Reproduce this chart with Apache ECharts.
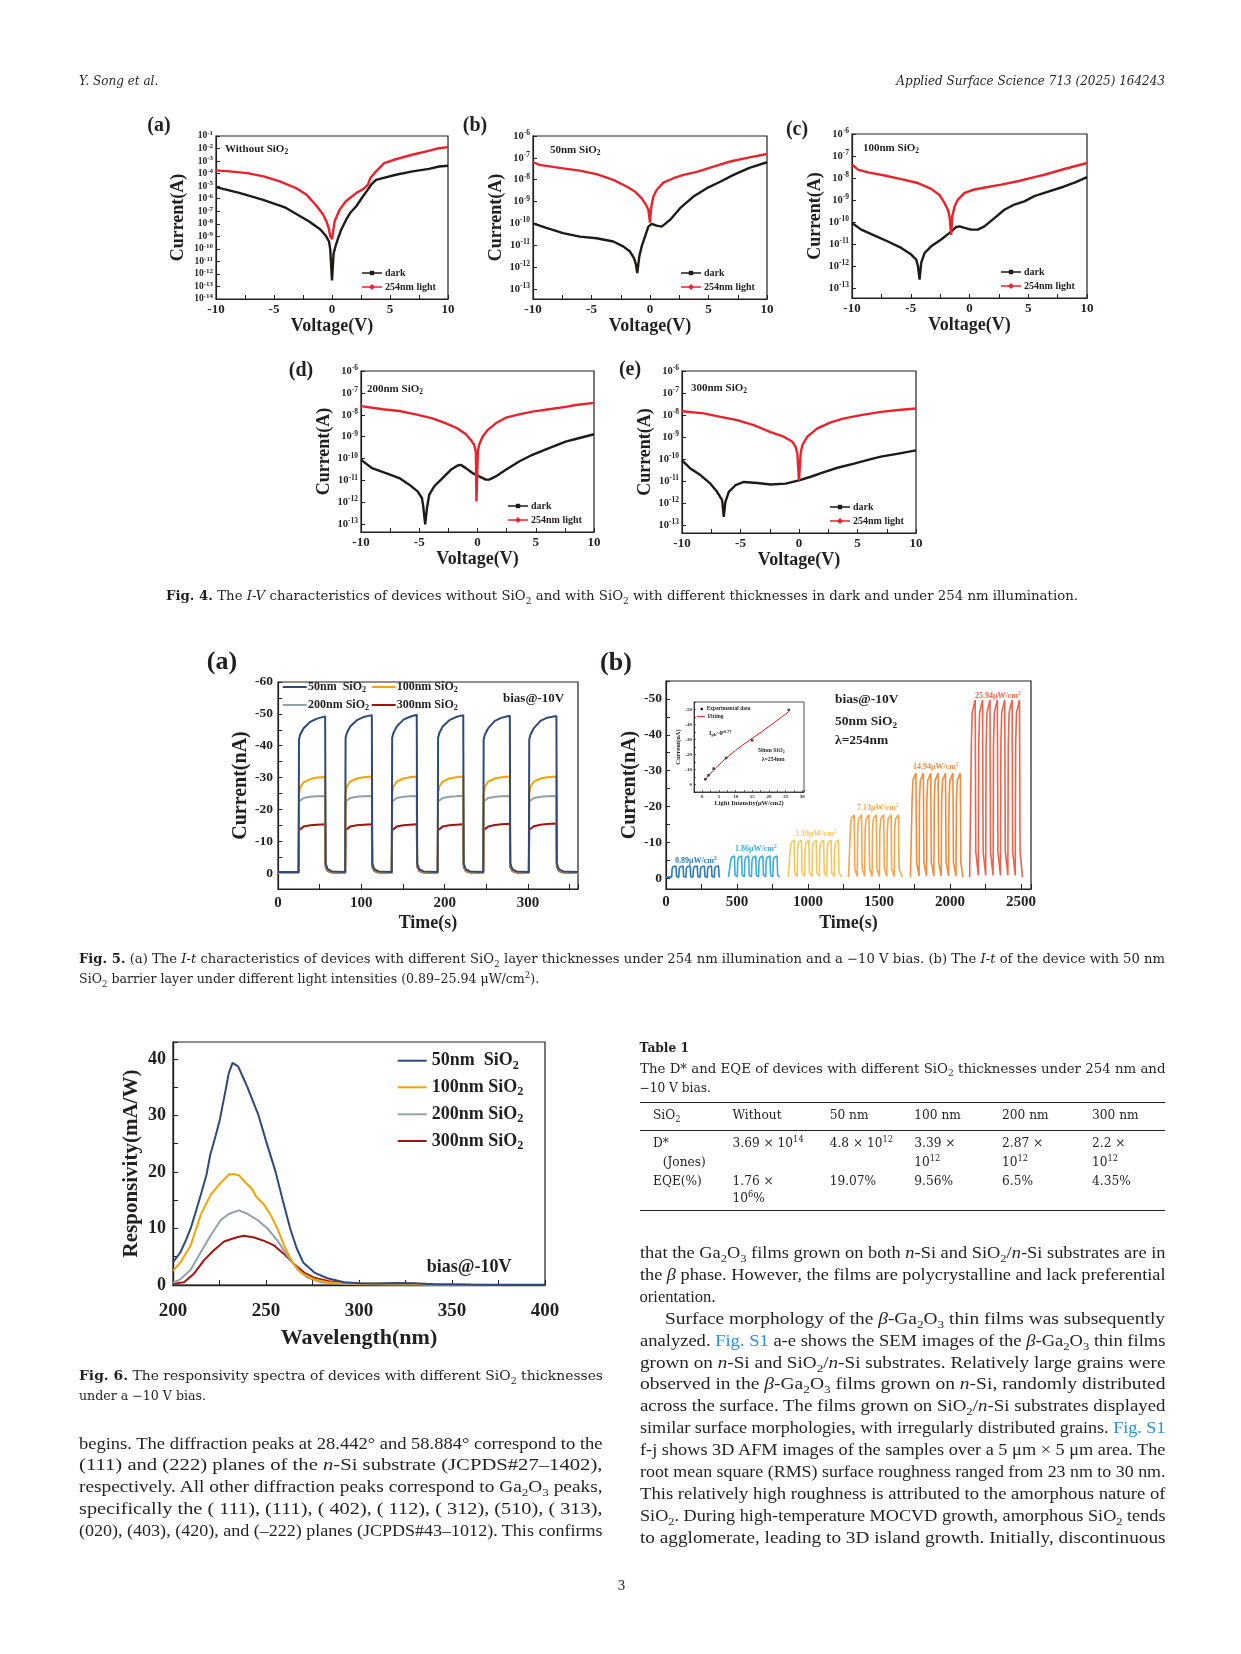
<!DOCTYPE html>
<html lang="en"><head><meta charset="utf-8"><title>Applied Surface Science page 3</title>
<script src="https://cdn.jsdelivr.net/npm/echarts@6.0.0/dist/echarts.min.js"></script>
<style>
html,body{margin:0;padding:0;background:#fff;}
#page{position:relative;width:1241px;height:1654px;overflow:hidden;background:#fff;}
#chart{position:absolute;left:0;top:0;width:1241px;height:1654px;}
.ln{position:absolute;color:#231f20;white-space:nowrap;}
.ln sub,.ln sup{font-size:68%;line-height:0;}
.body{font-family:"Liberation Serif",serif;font-size:16.6px;}
.cap{font-family:"DejaVu Serif",serif;font-size:12.6px;}
.tab{font-family:"DejaVu Serif",serif;font-size:12.2px;}
.hdr{font-family:"DejaVu Serif",serif;font-style:italic;font-size:12px;}
.lk{color:#2a8fd6;}
.rule{position:absolute;background:#231f20;}
</style></head>
<body><div id="page"><div id="chart"></div></div>
<script>
// ================= DATA =================
// ---- Fig. 4 : I-V curves (V in volts, I in amperes) ----
const f4aDarkV = [-10,-8,-6,-4,-2,-1,-0.5,-0.26,-0.15,0,0.14,0.31,0.5,0.8,1.23,1.6,2.09,2.66,3.0,3.37,3.8,4.37,5.51,6.94,8.37,9.23,10];
const f4aDarkI = [8.5e-6,2.9e-6,8.5e-7,1.9e-7,1.6e-8,3.5e-9,1.0e-9,4e-10,9e-11,3e-13,4.5e-11,1.7e-10,6e-10,3.5e-9,2.2e-8,8e-8,2.5e-7,1.5e-6,4e-6,1.3e-5,3.2e-5,4.4e-5,8.1e-5,1.5e-4,2.4e-4,3.7e-4,4.2e-4];
const f4aLightV = [-10,-8.8,-7.3,-5.9,-4.5,-3.1,-2.2,-1.3,-0.77,-0.49,-0.29,-0.15,0,0.1,0.23,0.66,1.2,2.1,2.7,3.1,3.3,3.8,4.5,5.5,6.9,8.4,9.2,10];
const f4aLightI = [1.8e-4,1.5e-4,1.1e-4,6e-5,2.4e-5,7e-6,2.1e-6,2.5e-7,5.5e-8,1.6e-8,4.8e-9,1.0e-9,6e-10,2.6e-9,1.6e-8,1.35e-7,6.3e-7,2.9e-6,5.9e-6,1.3e-5,4.4e-5,1.5e-4,6.8e-4,1.4e-3,3.2e-3,6.9e-3,1.05e-2,1.3e-2];

const f4bDarkV = [-10,-8.86,-7.43,-6,-4.57,-3.14,-2.29,-1.71,-1.37,-1.2,-1.09,-0.91,-0.71,-0.43,-0.14,0.14,0.57,1,1.71,2.57,3.71,4.86,6,7.14,8.5,10];
const f4bDarkI = [1e-10,6.3e-11,3.6e-11,2.5e-11,2.1e-11,1.5e-11,8.9e-12,5.2e-12,2.6e-12,1.3e-12,5.4e-13,3.2e-12,8.9e-12,2.5e-11,7.2e-11,9.5e-11,7.9e-11,7.2e-11,1.45e-10,5e-10,1.7e-9,4.1e-9,8.1e-9,1.66e-8,3.5e-8,6.3e-8];
const f4bLightV = [-10,-9.43,-7.43,-6,-4.57,-3.14,-2,-1.29,-0.71,-0.34,-0.14,0,0.09,0.29,0.57,1.14,2,2.86,4,5.43,6.86,8.5,10];
const f4bLightI = [6.3e-8,4.8e-8,3.3e-8,2.6e-8,1.8e-8,9.8e-9,4.9e-9,2.9e-9,1.4e-9,7.1e-10,4.2e-10,1.1e-10,5e-10,1.7e-9,3.4e-9,7.4e-9,1.17e-8,1.66e-8,2.3e-8,4e-8,6.8e-8,1.05e-7,1.5e-7];

const f4cDarkV = [-10,-9.21,-8.07,-6.94,-5.81,-4.96,-4.53,-4.39,-4.25,-4.11,-3.82,-3.26,-2.41,-1.7,-1.13,-0.85,-0.42,0.14,0.71,1.27,2.12,2.97,3.82,4.67,5.52,6.37,8,9,10];
const f4cDarkI = [8.9e-11,4.5e-11,2.4e-11,1.3e-11,6.6e-12,3.3e-12,1.95e-12,1e-12,2.4e-13,1.4e-12,3.9e-12,7.8e-12,1.6e-11,3.2e-11,5.9e-11,6.3e-11,5.4e-11,4.5e-11,4.5e-11,6.3e-11,1.5e-10,3.6e-10,6.2e-10,8.7e-10,1.5e-9,2.1e-9,4e-9,6.3e-9,1.1e-8];
const f4cLightV = [-10,-9.49,-8.64,-7.22,-5.81,-4.39,-3.26,-2.55,-2.12,-1.84,-1.7,-1.56,-1.47,-1.27,-0.99,-0.42,0.42,1.56,2.69,4.11,5.52,6.37,8,10];
const f4cLightI = [4.1e-8,2.4e-8,1.8e-8,1.3e-8,8.9e-9,5.9e-9,3.2e-9,1.7e-9,7.2e-10,3.6e-10,1.8e-10,2.6e-11,1.8e-10,5.1e-10,1.05e-9,2.1e-9,3e-9,3.9e-9,5e-9,7.1e-9,1.1e-8,1.4e-8,2.5e-8,4.8e-8];

const f4dDarkV = [-10,-9.06,-7.86,-6.71,-5.86,-5.14,-4.77,-4.66,-4.49,-4.34,-4.14,-3.71,-3,-2.29,-1.71,-1.43,-1,-0.43,0.14,0.71,1,1.57,2.43,3.57,4.71,6.14,7.57,8.43,10];
const f4dDarkI = [8.9e-11,3.7e-11,2.2e-11,1.3e-11,6.5e-12,3.2e-12,1.6e-12,6.8e-13,1e-13,5.6e-13,2.3e-12,5.5e-12,1.3e-11,3.1e-11,4.9e-11,5.2e-11,3.7e-11,2.2e-11,1.55e-11,1.1e-11,1.1e-11,1.55e-11,3.1e-11,7.4e-11,1.5e-10,3e-10,6e-10,7.9e-10,1.3e-9];
const f4dLightV = [-10,-8.14,-6.71,-5.29,-3.86,-2.71,-1.71,-1,-0.57,-0.29,-0.14,-0.09,0.03,0.14,0.43,0.86,1.57,2.43,3.57,4.71,6.14,7.57,8.43,10];
const f4dLightI = [2.5e-8,1.8e-8,1.5e-8,1.05e-8,6.9e-9,4.1e-9,2.4e-9,1.3e-9,7.1e-10,4.3e-10,2.1e-10,1.1e-12,2.1e-10,4.3e-10,1e-9,2e-9,4.1e-9,7.4e-9,1.05e-8,1.4e-8,1.8e-8,2.3e-8,2.8e-8,3.5e-8];

const f4eDarkV = [-10,-9.29,-8.43,-7.57,-7,-6.57,-6.43,-6.29,-6,-5.43,-4.71,-3.57,-2.43,-1.14,0,1,2.14,3.29,4.71,6.14,7,8.5,10];
const f4eDarkI = [8.9e-11,3.8e-11,1.9e-11,7.8e-12,3.3e-12,1.4e-12,2.4e-13,1.15e-12,3.3e-12,6.6e-12,9.3e-12,8.3e-12,7.1e-12,7.8e-12,1.1e-11,1.6e-11,2.6e-11,4.1e-11,6.3e-11,1e-10,1.3e-10,1.8e-10,2.5e-10];
const f4eLightV = [-10,-8.14,-6.71,-5.29,-3.86,-2.43,-1.29,-0.57,-0.29,-0.14,0,0.14,0.29,0.71,1.57,2.71,3.86,5.29,7,8.5,10];
const f4eLightI = [1.5e-8,1.2e-8,8.3e-9,5.9e-9,3.5e-9,1.7e-9,1.05e-9,6.2e-10,3.6e-10,1.8e-10,1.1e-11,1.8e-10,4.4e-10,1.05e-9,2.5e-9,4.7e-9,7.1e-9,1e-8,1.4e-8,1.7e-8,2e-8];

const f4Tags = ['(a)','(b)','(c)','(d)','(e)'];
const f4Notes = ['Without SiO{b|2}','50nm SiO{b|2}','100nm SiO{b|2}','200nm SiO{b|2}','300nm SiO{b|2}'];
const f4LegendNames = ['dark','254nm light'];

// ---- Fig. 5(a) : I-t, bias -10 V (time s, current nA) ----
const f5aTime = [0,
 24.7,25.2,26.7,30.7,38.7,46.7,56.6,57.1,59.6,64.6,
 80.6,81.1,82.6,86.6,94.6,102.6,112.6,113.1,115.6,120.6,
 136.5,137,138.5,142.5,150.5,158.5,166.5,167,169.5,174.5,
 191.6,192.1,193.6,197.6,205.6,213.6,222.3,222.8,225.3,230.3,
 246.3,246.8,248.3,252.3,260.3,268.3,278.2,278.7,281.2,286.2,
 301,301.5,303,307,315,323,334.1,334.6,337.1,342.1,
 360];
const f5a50 = [-0.3,
 -0.3,-42,-43.5,-45.5,-47.5,-48.5,-49.2,-3,-1.2,-0.5,
 -0.3,-42.5,-44,-46,-48,-49,-49.6,-3,-1.2,-0.5,
 -0.3,-42.5,-44,-46,-48.2,-49.1,-49.7,-3,-1.2,-0.5,
 -0.3,-42.5,-44,-46,-48,-49,-49.6,-3,-1.2,-0.5,
 -0.3,-42,-43.5,-45.5,-47.8,-48.8,-49.4,-3,-1.2,-0.5,
 -0.3,-42,-43.5,-45.5,-47.8,-48.8,-49.3,-3,-1.2,-0.5,
 -0.3];
const f5a100 = [0,
 -0.1,-25,-27,-28.5,-29.5,-30,-30.2,-3,-1,-0.4,
 -0.1,-25,-27.2,-28.7,-29.7,-30.1,-30.3,-3,-1,-0.4,
 -0.1,-25,-27.2,-28.7,-29.7,-30.1,-30.3,-3,-1,-0.4,
 -0.1,-25,-27.2,-28.7,-29.7,-30.1,-30.3,-3,-1,-0.4,
 -0.1,-25,-27.2,-28.7,-29.7,-30.1,-30.3,-3,-1,-0.4,
 -0.1,-25,-27.2,-28.7,-29.7,-30.1,-30.3,-3,-1,-0.4,
 -0.1];
const f5a200 = [0,
 0,-22.5,-23,-23.6,-24,-24.1,-24.2,-2.5,-0.8,-0.3,
 0,-22.5,-23,-23.6,-24,-24.1,-24.2,-2.5,-0.8,-0.3,
 0,-22.5,-23,-23.6,-24,-24.1,-24.2,-2.5,-0.8,-0.3,
 0,-22.5,-23,-23.6,-24,-24.1,-24.3,-2.5,-0.8,-0.3,
 0,-22.5,-23,-23.6,-24,-24.1,-24.2,-2.5,-0.8,-0.3,
 0,-22.5,-23,-23.6,-24,-24.1,-24.2,-2.5,-0.8,-0.3,
 0];
const f5a300 = [0,
 0,-13.5,-14,-14.6,-15,-15.2,-15.3,-2,-0.6,-0.2,
 0,-13.5,-14,-14.6,-15,-15.2,-15.3,-2,-0.6,-0.2,
 0,-13.5,-14,-14.6,-15,-15.2,-15.3,-2,-0.6,-0.2,
 0,-13.5,-14,-14.6,-15,-15.2,-15.3,-2,-0.6,-0.2,
 0,-13.5,-14,-14.6,-15.1,-15.3,-15.5,-2,-0.6,-0.2,
 0,-13.6,-14.1,-14.7,-15.2,-15.4,-15.6,-2,-0.6,-0.2,
 0];
const f5aNames = ['50nm  SiO{b|2}','100nm SiO{b|2}','200nm SiO{b|2}','300nm SiO{b|2}'];

// ---- Fig. 5(b) : I-t under different intensities (time s, current nA) ----
const f5bG1T = [0, 40,43,49,70,74, 90,93,99,120,124, 140,143,149,170,174, 190,193,199,220,224, 240,243,249,270,274, 290,293,299,320,324, 340,343,349,370,374, 380];
const f5bG1I = [-0.3, -0.3,-2.6,-3.2,-3.4,-0.5, -0.3,-2.6,-3.2,-3.4,-0.5, -0.3,-2.6,-3.2,-3.4,-0.5, -0.3,-2.6,-3.2,-3.4,-0.5, -0.3,-2.6,-3.2,-3.4,-0.5, -0.3,-2.6,-3.2,-3.4,-0.5, -0.3,-2.6,-3.2,-3.4,-0.5, -0.3];
const f5bG2T = [440, 452,455,461,482,486, 502,505,511,532,536, 552,555,561,582,586, 602,605,611,632,636, 652,655,661,682,686, 702,705,711,732,736, 752,755,761,782,786, 800];
const f5bG2I = [-0.3, -0.4,-4.7,-5.8,-6.2,-0.9, -0.4,-4.7,-5.8,-6.2,-0.9, -0.4,-4.7,-5.8,-6.2,-0.9, -0.4,-4.7,-5.8,-6.2,-0.9, -0.4,-4.7,-5.8,-6.2,-0.9, -0.4,-4.7,-5.8,-6.2,-0.9, -0.4,-4.7,-5.8,-6.2,-0.9, -0.3];
const f5bG3T = [860, 872,875,881,902,906, 924,927,933,954,958, 976,979,985,1006,1010, 1028,1031,1037,1058,1062, 1080,1083,1089,1110,1114, 1132,1135,1141,1162,1166, 1184,1187,1193,1214,1218, 1238];
const f5bG3I = [-0.3, -0.5,-8,-9.9,-10.6,-1.6, -0.5,-8,-9.9,-10.6,-1.6, -0.5,-8,-9.9,-10.6,-1.6, -0.5,-8,-9.9,-10.6,-1.6, -0.5,-8,-9.9,-10.6,-1.6, -0.5,-8,-9.9,-10.6,-1.6, -0.5,-8,-9.9,-10.6,-1.6, -0.3];
const f5bG4T = [1285, 1295,1298,1304,1325,1329, 1347,1350,1356,1377,1381, 1399,1402,1408,1429,1433, 1451,1454,1460,1481,1485, 1503,1506,1512,1533,1537, 1555,1558,1564,1585,1589, 1607,1610,1616,1637,1641, 1664];
const f5bG4I = [-0.3, -0.5,-13.3,-16.5,-17.7,-2.7, -0.5,-13.3,-16.5,-17.7,-2.7, -0.5,-13.3,-16.5,-17.7,-2.7, -0.5,-13.3,-16.5,-17.7,-2.7, -0.5,-13.3,-16.5,-17.7,-2.7, -0.5,-13.3,-16.5,-17.7,-2.7, -0.5,-13.3,-16.5,-17.7,-2.7, -0.3];
const f5bG5T = [1721, 1730,1733,1739,1760,1764, 1782,1785,1791,1812,1816, 1834,1837,1843,1864,1868, 1886,1889,1895,1916,1920, 1938,1941,1947,1968,1972, 1990,1993,1999,2020,2024, 2042,2045,2051,2072,2076, 2090];
const f5bG5I = [-0.3, -0.6,-22,-27.3,-29.3,-4.4, -0.6,-22,-27.3,-29.3,-4.4, -0.6,-22,-27.3,-29.3,-4.4, -0.6,-22,-27.3,-29.3,-4.4, -0.6,-22,-27.3,-29.3,-4.4, -0.6,-22,-27.3,-29.3,-4.4, -0.6,-22,-27.3,-29.3,-4.4, -0.3];
const f5bG6T = [2138, 2147,2150,2156,2177,2181, 2199,2202,2208,2229,2233, 2251,2254,2260,2281,2285, 2303,2306,2312,2333,2337, 2355,2358,2364,2385,2389, 2407,2410,2416,2437,2441, 2459,2462,2468,2489,2493, 2510];
const f5bG6I = [-0.3, -0.8,-37.3,-46.2,-49.7,-7.5, -0.8,-37.3,-46.2,-49.7,-7.5, -0.8,-37.3,-46.2,-49.7,-7.5, -0.8,-37.3,-46.2,-49.7,-7.5, -0.8,-37.3,-46.2,-49.7,-7.5, -0.8,-37.3,-46.2,-49.7,-7.5, -0.8,-37.3,-46.2,-49.7,-7.5, -0.3];
const f5bIntensityLabels = ['0.89μW/cm{s|2}','1.86μW/cm{s|2}','3.39μW/cm{s|2}','7.13μW/cm{s|2}','14.94μW/cm{s|2}','25.94μW/cm{s|2}'];
// inset: photocurrent vs light intensity
const f5bInsetP = [0.89,1.86,3.39,7.13,14.94,25.94];
const f5bInsetI = [-3.5,-6.2,-10.6,-17.7,-29.4,-49.7];
const f5bFitP = [0.89,2,4,6,8,10,12,14,16,18,20,22,24,25.94];
const f5bFitI = [-3.2,-6.3,-11,-15.3,-19.2,-22.8,-26.2,-29.3,-32.4,-35.5,-38.7,-42,-45.3,-48.6];

// ---- Fig. 6 : responsivity spectra (nm, mA/W) ----
const f6W50 = [200,204,207,209.5,212,215,218,220,223,225,228,230,232,235,238,240,243,246,250,255,259,263,266.5,270,276,283,292,300,310,320,330,340,360,380,400];
const f6R50 = [4.0,5.8,8.0,10.0,12.7,16.0,19.5,23.0,26.5,29.0,34.0,37.5,39.3,38.7,36.5,35.0,32.5,30.0,25.5,20.2,15.0,10.0,6.5,4.0,2.2,1.2,0.5,0.3,0.25,0.35,0.3,0.15,0.05,0.02,0];
const f6W100 = [200,204,209.5,214.9,220.3,225.7,230.2,233,235.5,238.2,242.7,244.5,249,252.5,256.1,259.7,264.2,268.7,275.8,283,290,300,320,340,360,400];
const f6R100 = [2.5,4.0,7.0,12.4,16.0,18.1,19.6,19.6,19.4,18.4,16.9,15.7,14.2,12.4,10.0,7.0,4.0,2.2,1.0,0.5,0.3,0.2,0.3,0.1,0.05,0];
const f6W200 = [200,204,209.5,214.9,220.3,225.7,230.2,235.5,240,245.4,250.8,256.1,261.5,266.9,272.3,279.4,286.6,300,320,350,400];
const f6R200 = [0.4,1.0,2.7,5.8,8.8,11.5,12.6,13.2,12.6,11.5,10.0,7.9,5.2,2.8,1.3,0.5,0.3,0.15,0.1,0.05,0];
const f6W300 = [200,205.9,211.3,216.7,222.1,227.5,231,235,238.2,243.6,249,254.3,259.7,265.1,270.5,275.8,284.8,295,310,340,370,400];
const f6R300 = [0.2,0.5,2.0,4.4,6.2,7.7,8.1,8.5,8.7,8.4,7.8,7.0,5.5,3.7,2.2,1.3,0.6,0.3,0.15,0.1,0.05,0.05];
const f6Names = ['50nm  SiO{b|2}','100nm SiO{b|2}','200nm SiO{b|2}','300nm SiO{b|2}'];

// ================= BUILD =================
const FF = 'Liberation Serif';
const INK = '#231f20';
const DARK = '#1e1a18', RED = '#e8232b';
const C5 = ['#2e4a7a','#f5a300','#8fa2aa','#a5120f'];
const C5b = ['#2b7bba','#3aaee0','#f7c75f','#f4a74e','#f08d3c','#ea654e'];
const zip = (a,b) => a.map((v,i)=>[v,b[i]]);

const grids=[], xAxes=[], yAxes=[], series=[], graphics=[];
function addGrid(g, bw){ grids.push(Object.assign({show:true, borderColor:INK, borderWidth:bw||1.2, backgroundColor:'transparent'}, g)); return grids.length-1; }
const AL = (w) => ({show:true, onZero:false, lineStyle:{color:INK, width:w||1.2}});
const AT = (len, w) => ({show:true, inside:true, length:len, lineStyle:{color:INK, width:w||1}});
function richSet(fs, color){
  return {
    b:{fontSize:fs*0.68, fontFamily:FF, fontWeight:'bold', fill:color, color:color, padding:[fs*0.55,0,0,0]},
    s:{fontSize:fs*0.68, fontFamily:FF, fontWeight:'bold', fill:color, color:color, padding:[0,0,fs*0.5,0]}
  };
}
function gText(x, y, text, fs, color, align){
  color = color || INK;
  graphics.push({type:'text', silent:true, z:60, style:{x:x, y:y, text:text, fill:color, fontFamily:FF, fontWeight:'bold', fontSize:fs, align:align||'left', verticalAlign:'middle', rich:richSet(fs,color)}});
}
function gLine(x1,y1,x2,y2,color,w){ graphics.push({type:'line', silent:true, z:60, shape:{x1:x1,y1:y1,x2:x2,y2:y2}, style:{stroke:color, lineWidth:w||1.5}}); }
function gRect(x,y,w,h,color){ graphics.push({type:'rect', silent:true, z:61, shape:{x:x,y:y,width:w,height:h}, style:{fill:color}}); }
function gDiamond(cx,cy,r,color){ graphics.push({type:'polygon', silent:true, z:61, shape:{points:[[cx,cy-r],[cx+r,cy],[cx,cy+r],[cx-r,cy]]}, style:{fill:color}}); }
const nameStyle = (fs) => ({fontFamily:FF, fontWeight:'bold', fontSize:fs, color:INK});
const lblStyle = (fs, margin, fmt) => ({fontFamily:FF, fontWeight:'bold', fontSize:fs, color:INK, margin:margin, formatter:fmt});

// ---------- Fig. 4 ----------
const f4 = [
 {grid:{left:216,top:136,width:232,height:163}, d:[f4aDarkV,f4aDarkI], l:[f4aLightV,f4aLightI], ymin:1e-14, ymax:1e-1, overlay:[-14,-1], tx:159, ty:126, nx:225, ny:149, ygap:29, xgap:17},
 {grid:{left:533,top:136,width:234,height:163}, d:[f4bDarkV,f4bDarkI], l:[f4bLightV,f4bLightI], ymin:3.5e-14, ymax:1e-6, tx:475, ty:126, nx:550, ny:150, ygap:25, xgap:14},
 {grid:{left:852,top:134,width:235,height:164}, d:[f4cDarkV,f4cDarkI], l:[f4cLightV,f4cLightI], ymin:3.5e-14, ymax:1e-6, tx:797, ty:130, nx:863, ny:148, ygap:24, xgap:14},
 {grid:{left:361,top:371,width:233,height:161}, d:[f4dDarkV,f4dDarkI], l:[f4dLightV,f4dLightI], ymin:4.5e-14, ymax:1e-6, tx:301, ty:371, nx:367, ny:389, ygap:26, xgap:16},
 {grid:{left:682,top:371,width:234,height:162}, d:[f4eDarkV,f4eDarkI], l:[f4eLightV,f4eLightI], ymin:4.5e-14, ymax:1e-6, tx:630, ty:370, nx:691, ny:388, ygap:27, xgap:16}
];
const logFmt = v => { const e = Math.log10(v), n = Math.round(e); return Math.abs(e-n) < 1e-6 ? '10{s|' + n + '}' : ''; };
f4.forEach((p, i) => {
  const gi = addGrid(p.grid);
  const xi = xAxes.length;
  xAxes.push({type:'value', gridIndex:gi, position:'bottom', min:-10, max:10, interval:2.5, axisLine:AL(), axisTick:AT(4), splitLine:{show:false},
    axisLabel:lblStyle(13, 4, v => (Math.abs(v % 5) < 1e-9 ? String(v) : '')),
    name:'Voltage(V)', nameLocation:'middle', nameGap:p.xgap, nameTextStyle:nameStyle(18)});
  const yi = yAxes.length;
  const ylog = {type:'log', logBase:10, gridIndex:gi, position:'left', min:p.ymin, max:p.ymax, axisLine:AL(), axisTick:AT(4), splitLine:{show:false},
    minorTick:{show:false}, minorSplitLine:{show:false},
    axisLabel:Object.assign(lblStyle(10.5, 3, logFmt), {rich:{s:{fontSize:7.5, fontFamily:FF, fontWeight:'bold', color:INK, padding:[0,0,6,0]}}})};
  if (p.overlay) {
    ylog.show = false;
    yAxes.push(ylog);
    yAxes.push({type:'value', gridIndex:gi, position:'left', offset:0, min:p.overlay[0], max:p.overlay[1], interval:1, axisLine:AL(), axisTick:AT(4), splitLine:{show:false},
      axisLabel:Object.assign(lblStyle(9.5, 3, v => '10{s|' + v + '}'), {rich:{s:{fontSize:7, fontFamily:FF, fontWeight:'bold', color:INK, padding:[0,0,5,0]}}}),
      name:'Current(A)', nameLocation:'middle', nameGap:p.ygap, nameRotate:90, nameTextStyle:nameStyle(18)});
  } else {
    Object.assign(ylog, {name:'Current(A)', nameLocation:'middle', nameGap:p.ygap, nameRotate:90, nameTextStyle:nameStyle(18)});
    yAxes.push(ylog);
  }
  series.push({type:'line', name:f4LegendNames[0], xAxisIndex:xi, yAxisIndex:yi, data:zip(p.d[0], p.d[1]), symbol:'none', lineStyle:{color:DARK, width:2.4}, z:3, silent:true});
  series.push({type:'line', name:f4LegendNames[1], xAxisIndex:xi, yAxisIndex:yi, data:zip(p.l[0], p.l[1]), symbol:'none', lineStyle:{color:RED, width:2.4}, z:4, silent:true});
  gText(p.tx, p.ty, f4Tags[i], 20, INK, 'center');
  gText(p.nx, p.ny, f4Notes[i], 11);
  const right = p.grid.left + p.grid.width, bottom = p.grid.top + p.grid.height;
  const x1 = right - 86, x2 = right - 66, ya = bottom - 26, yb = bottom - 12;
  gLine(x1, ya, x2, ya, DARK, 1.5); gRect((x1+x2)/2 - 2.2, ya - 2.2, 4.4, 4.4, DARK);
  gText(x2 + 3, ya, f4LegendNames[0], 10);
  gLine(x1, yb, x2, yb, RED, 1.5); gDiamond((x1+x2)/2, yb, 3, RED);
  gText(x2 + 3, yb, f4LegendNames[1], 10);
});

// ---------- Fig. 5(a) ----------
{
  const gi = addGrid({left:278, top:682, width:300, height:207});
  const xi = xAxes.length;
  xAxes.push({type:'value', gridIndex:gi, min:0, max:360, interval:50, axisLine:AL(), axisTick:AT(5), splitLine:{show:false},
    axisLabel:lblStyle(15, 7, v => (v % 100 === 0 ? String(v) : '')),
    name:'Time(s)', nameLocation:'middle', nameGap:25, nameTextStyle:nameStyle(18)});
  const yi = yAxes.length;
  yAxes.push({type:'value', gridIndex:gi, inverse:true, min:-60, max:5, interval:5, axisLine:AL(), axisTick:AT(4), splitLine:{show:false},
    axisLabel:lblStyle(13.5, 5, v => (v % 10 === 0 ? String(v) : '')),
    name:'Current(nA)', nameLocation:'middle', nameGap:21, nameRotate:90, nameTextStyle:nameStyle(20)});
  [f5a50, f5a100, f5a200, f5a300].forEach((arr, k) => {
    series.push({type:'line', xAxisIndex:xi, yAxisIndex:yi, data:zip(f5aTime, arr), symbol:'none', lineStyle:{color:C5[k], width:2}, z:3 + (3-k), silent:true});
  });
  gText(222, 662, '(a)', 26, INK, 'center');
  const lx = [282.7, 371.7], tx = [308, 396.7], ly = [687, 705];
  f5aNames.forEach((n, k) => {
    const cx = k % 2, cy = Math.floor(k / 2);
    gLine(lx[cx], ly[cy], lx[cx] + 24, ly[cy], C5[k], 2);
    gText(tx[cx], ly[cy], n, 12);
  });
  gText(503, 699, 'bias@-10V', 13);
}

// ---------- Fig. 5(b) ----------
{
  const gi = addGrid({left:666, top:681, width:365, height:208});
  const xi = xAxes.length;
  xAxes.push({type:'value', gridIndex:gi, min:0, max:2570, interval:250, axisLine:AL(), axisTick:AT(5), splitLine:{show:false},
    axisLabel:lblStyle(15, 6, v => (v % 500 === 0 ? String(v) : '')),
    name:'Time(s)', nameLocation:'middle', nameGap:25, nameTextStyle:nameStyle(18)});
  const yi = yAxes.length;
  yAxes.push({type:'value', gridIndex:gi, inverse:true, min:-55, max:3, interval:5, axisLine:AL(), axisTick:AT(4), splitLine:{show:false},
    axisLabel:lblStyle(13.5, 4, v => (v % 10 === 0 ? String(v) : '')),
    name:'Current(nA)', nameLocation:'middle', nameGap:23, nameRotate:90, nameTextStyle:nameStyle(20)});
  const groups = [[f5bG1T,f5bG1I],[f5bG2T,f5bG2I],[f5bG3T,f5bG3I],[f5bG4T,f5bG4I],[f5bG5T,f5bG5I],[f5bG6T,f5bG6I]];
  groups.forEach((g, k) => {
    series.push({type:'line', xAxisIndex:xi, yAxisIndex:yi, data:zip(g[0], g[1]), symbol:'none', lineStyle:{color:C5b[k], width:1.6}, z:3, silent:true});
  });
  const lab = [[675,861],[735,849],[795,834],[857,808],[913,767],[975,696]];
  f5bIntensityLabels.forEach((t, k) => gText(lab[k][0], lab[k][1], t, 8, C5b[k]));
  gText(616, 663, '(b)', 26, INK, 'center');
  gText(835, 700, 'bias@-10V', 13.5);
  gText(835, 722, '50nm SiO{b|2}', 13.5);
  gText(835, 741, 'λ=254nm', 13.5);

  // inset
  const gj = addGrid({left:694, top:702, width:110, height:90}, 0.8);
  const xj = xAxes.length;
  xAxes.push({type:'value', gridIndex:gj, min:-2.5, max:30.5, interval:2.5, axisLine:AL(0.8), axisTick:AT(2, 0.6), splitLine:{show:false},
    axisLabel:lblStyle(5, 2, v => (v % 5 === 0 ? String(v) : '')),
    name:'Light Intensity(μW/cm2)', nameLocation:'middle', nameGap:7, nameTextStyle:nameStyle(6.5)});
  const yj = yAxes.length;
  yAxes.push({type:'value', gridIndex:gj, inverse:true, min:-55, max:5, interval:5, axisLine:AL(0.8), axisTick:AT(2, 0.6), splitLine:{show:false},
    axisLabel:lblStyle(5, 2, v => (v % 10 === 0 ? String(v) : '')),
    name:'Current(nA)', nameLocation:'middle', nameGap:9, nameRotate:90, nameTextStyle:nameStyle(6.5)});
  series.push({type:'line', xAxisIndex:xj, yAxisIndex:yj, data:zip(f5bFitP, f5bFitI), symbol:'none', lineStyle:{color:'#e0141e', width:1}, z:5, silent:true});
  series.push({type:'scatter', xAxisIndex:xj, yAxisIndex:yj, data:zip(f5bInsetP, f5bInsetI), symbol:'rect', symbolSize:2.6, itemStyle:{color:INK}, z:6, silent:true});
  gRect(700.5, 707.8, 2.4, 2.4, INK);
  gText(706.7, 709, 'Experimental data', 5.5);
  gLine(697, 716.7, 705, 716.7, '#e0141e', 1);
  gText(707.7, 716.7, 'Fitting', 5.5);
  gText(709, 733, 'I{b|ph}~P{s|0.77}', 6.5);
  gText(758, 750.7, '50nm SiO{b|2}', 5.8);
  gText(761.7, 759.7, 'λ=254nm', 5.8);
}

// ---------- Fig. 6 ----------
{
  const gi = addGrid({left:173, top:1042, width:372, height:243});
  const xi = xAxes.length;
  xAxes.push({type:'value', gridIndex:gi, min:200, max:400, interval:25, axisLine:AL(1.4), axisTick:AT(5), splitLine:{show:false},
    axisLabel:lblStyle(19, 17, v => (v % 50 === 0 ? String(v) : '')),
    name:'Wavelength(nm)', nameLocation:'middle', nameGap:42, nameTextStyle:nameStyle(22)});
  const yi = yAxes.length;
  yAxes.push({type:'value', gridIndex:gi, min:0, max:43, interval:5, axisLine:AL(1.4), axisTick:AT(5), splitLine:{show:false},
    axisLabel:lblStyle(18, 7, v => (v % 10 === 0 ? String(v) : '')),
    name:'Responsivity(mA/W)', nameLocation:'middle', nameGap:31, nameRotate:90, nameTextStyle:nameStyle(21)});
  [[f6W50,f6R50],[f6W100,f6R100],[f6W200,f6R200],[f6W300,f6R300]].forEach((s, k) => {
    series.push({type:'line', xAxisIndex:xi, yAxisIndex:yi, data:zip(s[0], s[1]), symbol:'none', lineStyle:{color:C5[k], width:2}, z:3 + (3-k), silent:true});
  });
  const ly = [1060.7, 1087.3, 1114.3, 1141];
  f6Names.forEach((n, k) => { gLine(397.7, ly[k], 426.7, ly[k], C5[k], 2); gText(431.7, ly[k], n, 18); });
  gText(426.7, 1267, 'bias@-10V', 18);
}

const chart = echarts.init(document.getElementById('chart'), null, {renderer:'canvas', width:1241, height:1654});
chart.setOption({animation:false, grid:grids, xAxis:xAxes, yAxis:yAxes, series:series, graphic:{elements:graphics}});

// ================= PAGE TEXT =================
const page = document.getElementById('page');
// place one line of text; 'fit' stretches the natural line horizontally to the column width
function line(html, x, yc, w, cls, opt){
  opt = opt || {};
  const lh = opt.lh || 20;
  const d = document.createElement('div');
  d.className = 'ln ' + cls;
  d.innerHTML = html;
  d.style.left = x + 'px';
  d.style.top = (yc - lh/2) + 'px';
  d.style.lineHeight = lh + 'px';
  page.appendChild(d);
  const nat = d.getBoundingClientRect().width;
  if (w && opt.fit) {
    d.style.transformOrigin = '0 50%';
    d.style.transform = 'scaleX(' + (w / nat).toFixed(4) + ')';
  } else if (w && opt.align === 'right') {
    d.style.left = (x + w - nat) + 'px';
  } else if (w && opt.align === 'center') {
    d.style.left = (x + (w - nat) / 2) + 'px';
  }
  return d;
}
function rule(x, y, w, h){ const r = document.createElement('div'); r.className='rule'; r.style.left=x+'px'; r.style.top=(y-h/2)+'px'; r.style.width=w+'px'; r.style.height=h+'px'; page.appendChild(r); }

// header
line('Y. Song et al.', 79, 81.4, 0, 'hdr');
line('Applied Surface Science 713 (2025) 164243', 800, 81.4, 365, 'hdr', {align:'right'});

// captions
line('<b>Fig. 4.</b> The <i>I-V</i> characteristics of devices without SiO<sub>2</sub> and with SiO<sub>2</sub> with different thicknesses in dark and under 254 nm illumination.', 166, 596, 912, 'cap', {fit:true});
line('<b>Fig. 5.</b> (a) The <i>I-t</i> characteristics of devices with different SiO<sub>2</sub> layer thicknesses under 254 nm illumination and a −10 V bias. (b) The <i>I-t</i> of the device with 50 nm', 79, 958.7, 1086, 'cap', {fit:true});
line('SiO<sub>2</sub> barrier layer under different light intensities (0.89–25.94 μW/cm<sup>2</sup>).', 79, 978.8, 0, 'cap');
line('<b>Fig. 6.</b> The responsivity spectra of devices with different SiO<sub>2</sub> thicknesses', 79, 1376, 524, 'cap', {fit:true});
line('under a −10 V bias.', 79, 1396, 0, 'cap');

// table
line('<b>Table 1</b>', 639.5, 1047.5, 0, 'tab');
line('The D* and EQE of devices with different SiO<sub>2</sub> thicknesses under 254 nm and', 639.5, 1068.6, 525.5, 'tab', {fit:true});
line('−10 V bias.', 639.5, 1087.7, 0, 'tab');
rule(639.5, 1102.5, 525.5, 1.6);
rule(639.5, 1130, 525.5, 0.9);
rule(639.5, 1210.3, 525.5, 1.2);
const tabCols = [653, 732.5, 829.7, 914.3, 1002, 1092];
const tabHead = ['SiO<sub>2</sub>','Without','50 nm','100 nm','200 nm','300 nm'];
const tabRow1 = ['D*','3.69 × 10<sup>14</sup>','4.8 × 10<sup>12</sup>','3.39 ×','2.87 ×','2.2 ×'];
const tabRow1b = ['(Jones)','','','10<sup>12</sup>','10<sup>12</sup>','10<sup>12</sup>'];
const tabRow2 = ['EQE(%)','1.76 ×','19.07%','9.56%','6.5%','4.35%'];
const tabRow2b = ['','10<sup>6</sup>%','','','',''];
[[tabHead,1115],[tabRow1,1142.6],[tabRow1b,1161.6],[tabRow2,1180.7],[tabRow2b,1197.6]].forEach(r => {
  r[0].forEach((c, k) => { if (c) line(c, tabCols[k] + (c === '(Jones)' ? 9.7 : 0), r[1], 0, 'tab'); });
});

// body text, left column
const leftLines = [
 'begins. The diffraction peaks at 28.442° and 58.884° correspond to the',
 '(111) and (222) planes of the <i>n</i>-Si substrate (JCPDS#27–1402),',
 'respectively. All other diffraction peaks correspond to Ga<sub>2</sub>O<sub>3</sub> peaks,',
 'specifically the ( 111), (111), ( 402), ( 112), ( 312), (510), ( 313),',
 '(020), (403), (420), and (–222) planes (JCPDS#43–1012). This confirms'
];
leftLines.forEach((t, k) => line(t, 79, 1443 + k * 21.9, 523.5, 'body', {fit:true, lh:21}));

// body text, right column
const rightLines = [
 'that the Ga<sub>2</sub>O<sub>3</sub> films grown on both <i>n</i>-Si and SiO<sub>2</sub>/<i>n</i>-Si substrates are in',
 'the <i>β</i> phase. However, the films are polycrystalline and lack preferential',
 'orientation.',
 'Surface morphology of the <i>β</i>-Ga<sub>2</sub>O<sub>3</sub> thin films was subsequently',
 'analyzed. <span class="lk">Fig. S1</span> a-e shows the SEM images of the <i>β</i>-Ga<sub>2</sub>O<sub>3</sub> thin films',
 'grown on <i>n</i>-Si and SiO<sub>2</sub>/<i>n</i>-Si substrates. Relatively large grains were',
 'observed in the <i>β</i>-Ga<sub>2</sub>O<sub>3</sub> films grown on <i>n</i>-Si, randomly distributed',
 'across the surface. The films grown on SiO<sub>2</sub>/<i>n</i>-Si substrates displayed',
 'similar surface morphologies, with irregularly distributed grains. <span class="lk">Fig. S1</span>',
 'f-j shows 3D AFM images of the samples over a 5 μm × 5 μm area. The',
 'root mean square (RMS) surface roughness ranged from 23 nm to 30 nm.',
 'This relatively high roughness is attributed to the amorphous nature of',
 'SiO<sub>2</sub>. During high-temperature MOCVD growth, amorphous SiO<sub>2</sub> tends',
 'to agglomerate, leading to 3D island growth. Initially, discontinuous'
];
rightLines.forEach((t, k) => {
  const y = 1252.5 + k * 21.9;
  if (k === 2) line(t, 639.5, y, 0, 'body', {lh:21});
  else if (k === 3) line(t, 665, y, 500, 'body', {fit:true, lh:21});
  else line(t, 639.5, y, 525.5, 'body', {fit:true, lh:21});
});

// page number
line('3', 600, 1585.5, 43, 'cap', {align:'center'});
</script>
</body></html>
